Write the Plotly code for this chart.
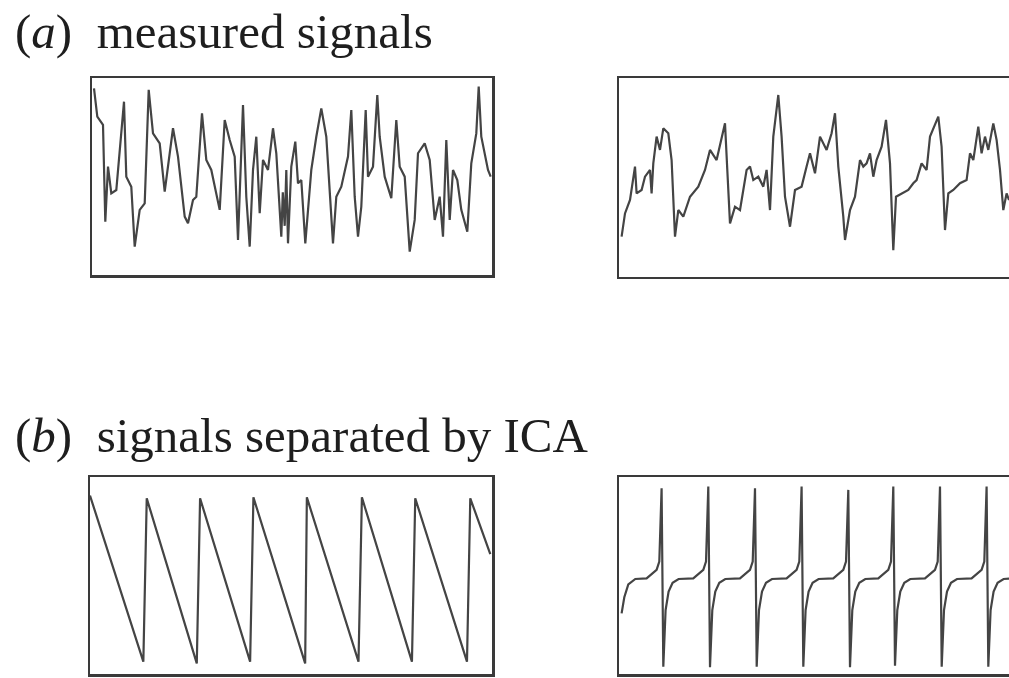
import plotly.graph_objects as go

# ---- (a) measured signal 1 (top-left) : x = sample position, y = amplitude (0-100)
m1_t = [2, 5.3, 11, 13.3, 16, 19.3, 24.3, 32, 34.3, 39.3, 42.7, 47.7, 52.7, 56.7, 61, 67.7,
        72.7, 81, 86, 92.7, 96, 101, 104.3, 110, 114.3, 119.3, 127.7, 132.7, 137.7, 142.7,
        146, 151, 154.3, 157.7, 161, 164.3, 167.7, 171, 176, 181, 184.3, 189.3, 190.8, 192.7,
        194.3, 196, 199.3, 203.3, 206, 209.3, 213.3, 219.3, 224.3, 229.3, 234.3, 237.7, 241,
        244.3, 249.3, 256, 259.3, 262.7, 266, 269.3, 273.7, 276, 281, 285.3, 287.7, 292.7,
        299.3, 304.3, 307.7, 312.7, 317.7, 322.7, 326, 332.7, 337.7, 342.7, 347.7, 351, 354.3,
        357.7, 361, 365.3, 369.3, 375.3, 379.3, 384.3, 386.7, 389.3, 396, 398.7]
m1_v = [94.9, 80.5, 76.3, 27.1, 55.1, 41.5, 43.2, 88.1, 50, 44.9, 14.4, 33.1, 36.4, 94.1, 72, 66.9,
        42.4, 74.6, 60.2, 29.7, 26.3, 38.1, 39.8, 82.2, 58.5, 53.4, 33.1, 78.8, 68.6, 60.2,
        17.8, 86.4, 39.8, 14.4, 53.4, 70.3, 31.4, 58.5, 53.4, 74.6, 61.9, 19.5, 42.0, 25.0,
        53.4, 16.1, 55.1, 67.8, 46.6, 48.3, 16.1, 53.4, 70.3, 84.7, 70.3, 43.2, 16.1,
        39.8, 44.9, 60.2, 83.9, 39.8, 19.5, 34.7, 83.9, 50, 55.1, 91.5, 70.3, 50,
        39, 78.8, 55.1, 50, 11.9, 28, 61.9, 66.9, 58.5, 28, 39.8, 19.5, 68.6,
        28, 53.4, 48.3, 33.1, 22, 56.8, 72, 95.8, 70.3, 53.4, 50]

# ---- (a) measured signal 2 (top-right)
m2_t = [2.3, 5.7, 10.7, 15.7, 17.3, 22.3, 25.7, 30.7, 32.3, 34, 37.3, 40.7, 44, 49, 52.3, 55.7,
        59, 64, 70.7, 79, 85.7, 90.7, 97.3, 105.7, 108, 110.7, 115.7, 120.7, 127.3, 130.7, 134,
        139, 144, 147.3, 150.7, 154, 159, 162.3, 165.7, 170.7, 175.7, 182.3, 187.3, 190.7,
        195.7, 200.7, 207.3, 212.3, 215.7, 219, 224, 225.7, 230.7, 235.7, 240.7, 244, 247.3,
        250.7, 254, 257.3, 262.3, 266.7, 270.7, 274, 276.7, 282.3, 289, 294, 297.3, 302.3,
        307.3, 310.7, 319, 322.3, 325.7, 329, 334, 340.7, 347.3, 350.7, 354, 359, 362.3,
        365.7, 369, 374, 377.3, 380.7, 384, 387.3, 389.7, 395]
m2_v = [20.2, 31.9, 38.7, 55.5, 42, 43.7, 50.4, 53.8, 42, 57.1, 70.6, 63.9, 74.8, 72.3, 58.8, 20.2,
        33.6, 30.3, 40.3, 45.4, 53.8, 63.9, 58.8, 77.3, 53.8, 26.9, 35.3, 33.6, 53.8, 55.5, 48.7,
        50.4, 45.4, 53.8, 33.6, 70.6, 91.6, 70.6, 40.3, 25.2, 43.7, 45.4, 55.5, 62.2,
        52.1, 70.6, 63.9, 72.3, 82.4, 55.5, 30.3, 18.5, 33.6, 40.3, 58.8, 55.5, 57.1,
        62.2, 50.4, 58.8, 65.5, 79, 57.1, 13.4, 40.3, 42, 43.7, 47.1, 48.7, 57.1,
        53.8, 70.6, 80.7, 65.5, 23.5, 42, 43.7, 47.1, 48.7, 62.2, 58.8, 75.6, 62.2,
        70.6, 63.9, 77.3, 68.9, 53.8, 33.6, 42, 38.7, 45]

# ---- (b) separated signal 1 (bottom-left, sawtooth)
s1_t = [0, 53.3, 56.7, 106.7, 110.0, 160.0, 163.3, 215.0, 216.7, 268.3, 271.7, 321.7, 325.0,
        376.7, 380.0, 400.0]
s1_v = [90.7, 6.3, 89.3, 5.4, 89.3, 6.3, 89.8, 5.4, 89.8, 6.3, 89.8, 6.3, 89.3, 6.3, 89.3, 61.0]

# ---- (b) separated signal 2 (bottom-right, spikes)
s2_t = [2.3, 5.0, 9.0, 16.0,
        27.3, 37.3, 40.0, 42.3, 44.0, 46.3, 49.3, 53.3, 59.3,
        74.0, 84.0, 86.7, 89.0, 90.7, 93.0, 96.0, 100.0, 106.0,
        120.7, 130.7, 133.4, 135.7, 137.4, 139.7, 142.7, 146.7, 152.7,
        167.3, 177.3, 180.0, 182.3, 184.0, 186.3, 189.3, 193.3, 199.3,
        214.0, 224.0, 226.7, 229.0, 230.7, 233.0, 236.0, 240.0, 246.0,
        259.0, 269.0, 271.7, 274.0, 275.7, 278.0, 281.0, 285.0, 291.0,
        305.7, 315.7, 318.4, 320.7, 322.4, 324.7, 327.7, 331.7, 337.7,
        352.3, 362.3, 365.0, 367.3, 369.0, 371.3, 374.3, 378.3, 384.3, 395.0]
s2_v = [30.8, 39.0, 45.5, 48.3,
        48.6, 52.9, 57.1, 94.4, 3.7, 32.5, 41.9, 46.4, 48.3,
        48.6, 52.9, 57.1, 95.3, 3.4, 32.5, 41.9, 46.4, 48.3,
        48.6, 52.9, 57.1, 94.4, 3.7, 32.5, 41.9, 46.4, 48.3,
        48.6, 52.9, 57.1, 95.3, 3.7, 32.5, 41.9, 46.4, 48.3,
        48.6, 52.9, 57.1, 93.6, 3.4, 32.5, 41.9, 46.4, 48.3,
        48.6, 52.9, 57.1, 95.3, 4.2, 32.5, 41.9, 46.4, 48.3,
        48.6, 52.9, 57.1, 95.3, 3.7, 32.5, 41.9, 46.4, 48.3,
        48.6, 52.9, 57.1, 95.3, 3.7, 32.5, 41.9, 46.4, 48.3, 48.6]

titles = ["(<i>a</i>)\u00a0\u00a0measured signals", "(<i>b</i>)\u00a0\u00a0signals separated by ICA"]

W, H = 1009, 678
LINE = "#444444"
BOX = "#3a3a3a"

fig = go.Figure()
panels = [
    (m1_t, m1_v, "x", "y"),
    (m2_t, m2_v, "x2", "y2"),
    (s1_t, s1_v, "x3", "y3"),
    (s2_t, s2_v, "x4", "y4"),
]
for t, v, xa, ya in panels:
    fig.add_trace(go.Scatter(x=t, y=v, mode="lines", xaxis=xa, yaxis=ya,
                             line=dict(color=LINE, width=2.2), hoverinfo="skip",
                             showlegend=False))

def px_x(p):
    return p / W

def px_y(p):
    return 1 - p / H

ax_common = dict(showgrid=False, zeroline=False, showticklabels=False, ticks="",
                 showline=True, linecolor=BOX, linewidth=2.5, fixedrange=True)

layout = dict(
    width=W, height=H, margin=dict(l=0, r=0, t=0, b=0),
    paper_bgcolor="white", plot_bgcolor="white", showlegend=False,
    xaxis=dict(domain=[px_x(92), px_x(492)], range=[0, 400], mirror=True, anchor="y", **ax_common),
    yaxis=dict(domain=[px_y(275), px_y(78.3)], range=[0, 100], mirror=True, anchor="x", **ax_common),
    xaxis2=dict(domain=[px_x(619.3), 1], range=[0, 389.7], mirror=True, anchor="y2", **ax_common),
    yaxis2=dict(domain=[px_y(276.7), px_y(78.3)], range=[0, 100], mirror=False, anchor="x2", **ax_common),
    xaxis3=dict(domain=[px_x(90), px_x(492.3)], range=[0, 402], mirror=True, anchor="y3", **ax_common),
    yaxis3=dict(domain=[px_y(674), px_y(477.3)], range=[0, 100], mirror=True, anchor="x3", **ax_common),
    xaxis4=dict(domain=[px_x(619.3), 1], range=[0, 389.7], mirror=True, anchor="y4", **ax_common),
    yaxis4=dict(domain=[px_y(674), px_y(477.3)], range=[0, 100], mirror=False, anchor="x4", **ax_common),
)
fig.update_layout(**layout)

for txt, ymid in zip(titles, [31, 435]):
    fig.add_annotation(text=txt, xref="paper", yref="paper", x=px_x(13), y=px_y(ymid),
                       xanchor="left", yanchor="middle", showarrow=False,
                       font=dict(family="Liberation Serif, Times New Roman, serif", size=49,
                                 color="#1e1e1e"))

fig.write_html("out.html", config={"displayModeBar": False, "staticPlot": True},
               post_script="document.body.style.margin='0';document.body.style.overflow='hidden';")
